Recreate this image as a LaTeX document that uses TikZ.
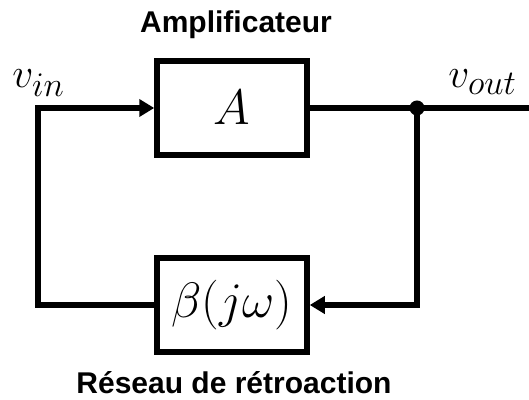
\documentclass[tikz,border=0pt]{standalone}
\usepackage{fontspec}
\setmainfont{Liberation Sans}
\usetikzlibrary{arrows.meta}

\tikzset{
  block/.style={draw, line width=2.75pt, minimum width=75pt, minimum height=47pt,
    inner sep=0pt, font=\fontsize{24}{28}\selectfont},
  wire/.style={line width=3pt},
  flow/.style={wire, -{Triangle[length=7.5pt, width=8.5pt]}},
  caption/.style={font=\fontsize{15}{17}\selectfont\bfseries},
  sig/.style={font=\fontsize{22}{24}\selectfont, inner sep=0pt, anchor=base west}
}
\newcommand{\subsz}[1]{\mbox{\fontsize{19}{21}\selectfont$#1$}}

\begin{document}
\begin{tikzpicture}[x=0.5pt, y=-0.5pt]
  \useasboundingbox (0,0) rectangle (529,400);
  % blocs
  \node[block] (amp) at (232,108) {$A$};
  \node[block] (beta) at (232,305) {$\beta(j\omega)$};
  \node[caption] (amptitle) at (236,25) {Amplificateur};
  \node[caption] (betatitle) at (234,383) {Réseau de rétroaction};
  % signaux
  \node[sig] (vin) at (12,88) {$v_{\subsz{in}}$};
  \node[sig] (vout) at (448,88) {$v_{\subsz{out}}$};
  \coordinate (loopl) at (38,305);
  \coordinate (tap) at (417,108);
  \coordinate (outr) at (529,108);
  % liaisons
  \draw[flow] (beta.west) -- (loopl) |- (amp.west);
  \draw[wire] (amp.east) -- (outr);
  \draw[flow] (tap) |- (beta.east);
  \fill (tap) circle[radius=3.75pt];
\end{tikzpicture}
\end{document}
